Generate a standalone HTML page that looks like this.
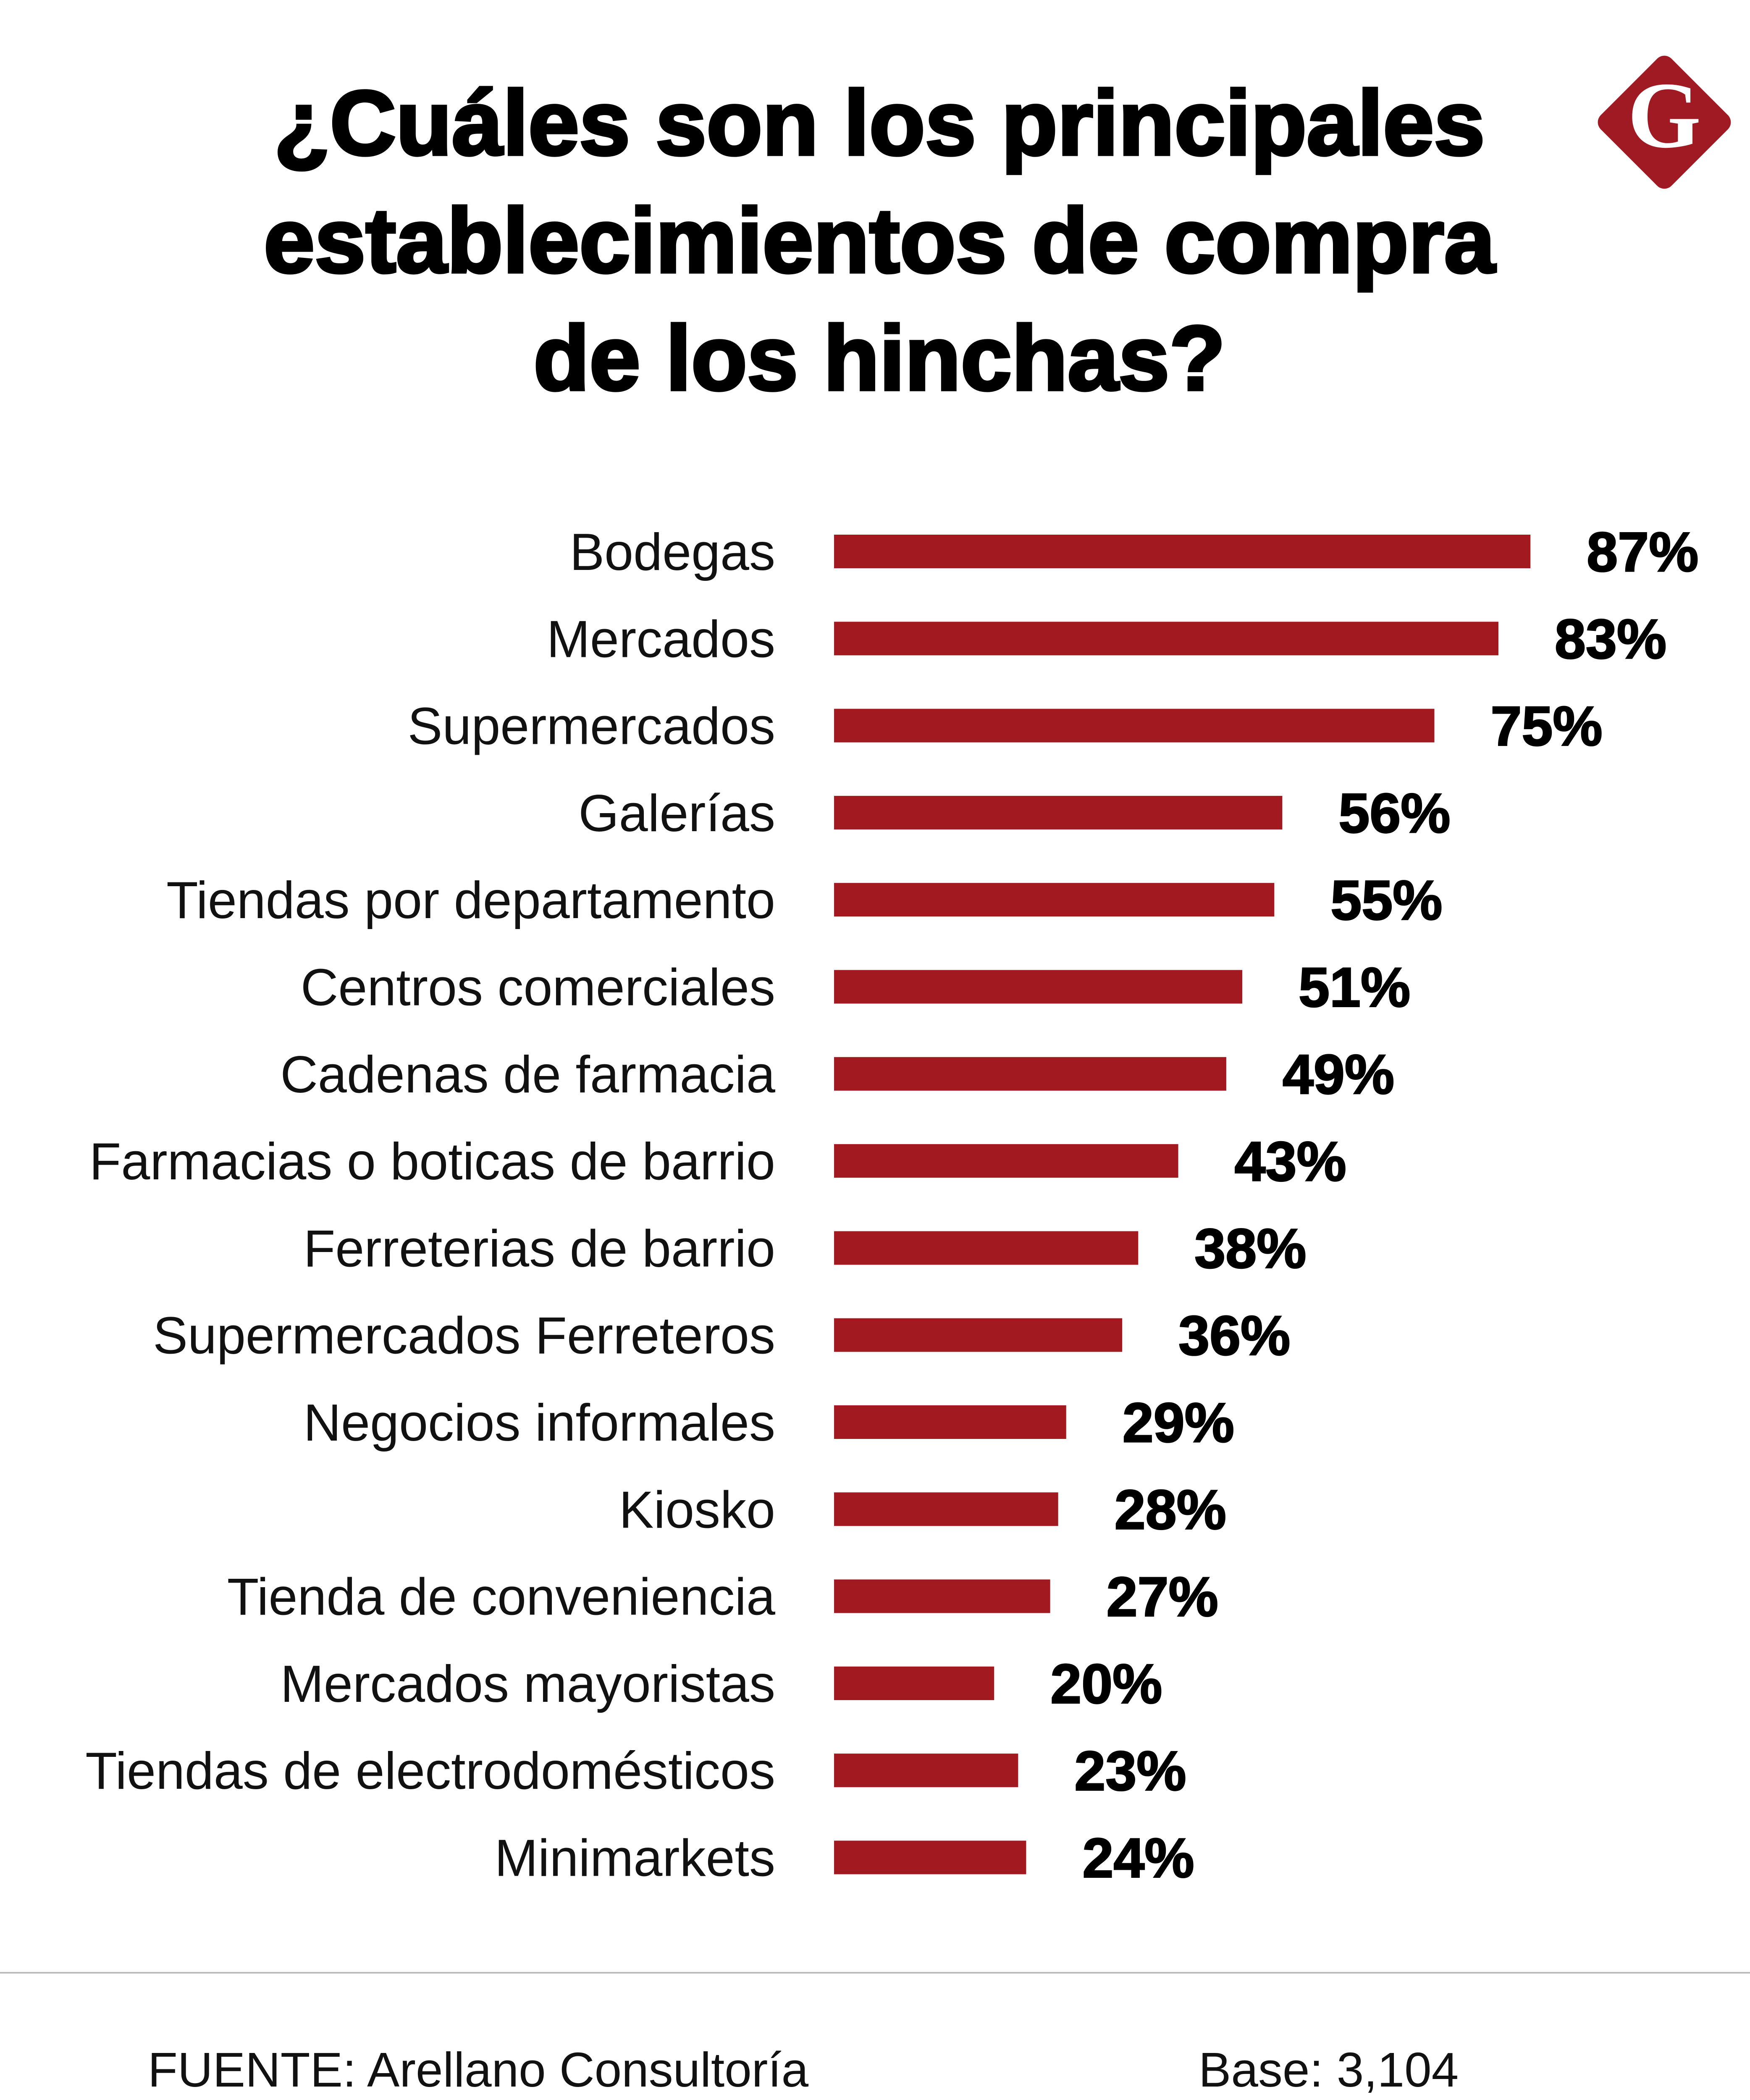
<!DOCTYPE html>
<html><head><meta charset="utf-8"><style>
html,body{margin:0;padding:0;background:#fff;overflow:hidden;}
svg{display:block;}
</style></head><body>
<svg width="4167" height="5237" viewBox="0 0 4167 5237" xmlns="http://www.w3.org/2000/svg">
<g font-family="Liberation Sans, sans-serif" font-weight="bold" font-size="218" text-anchor="middle" fill="#000" stroke="#000" stroke-width="7">
<text x="2094" y="368">¿Cuáles son los principales</text>
<text x="2094" y="648">establecimientos de compra</text>
<text x="2094" y="928">de los hinchas?</text>
</g>
<g>
<rect x="3844" y="172" width="238" height="238" rx="24" fill="#a01a24" transform="rotate(45 3963 291)"/>
<text x="3963" y="350" text-anchor="middle" font-family="Liberation Serif, serif" font-weight="bold" font-size="225" fill="#fff">G</text>
</g>
<g id="bars"></g>
<line x1="0" y1="4697" x2="4167" y2="4697" stroke="#bbb" stroke-width="4"/>
<text x="352" y="4968" font-family="Liberation Sans, sans-serif" font-size="116" fill="#111">FUENTE: Arellano Consultoría</text>
<text x="2854" y="4968" font-family="Liberation Sans, sans-serif" font-size="116" fill="#111">Base: 3,104</text>
</svg>
<script>
const categories=["Bodegas","Mercados","Supermercados","Galerías","Tiendas por departamento","Centros comerciales","Cadenas de farmacia","Farmacias o boticas de barrio","Ferreterias de barrio","Supermercados Ferreteros","Negocios informales","Kiosko","Tienda de conveniencia","Mercados mayoristas","Tiendas de electrodomésticos","Minimarkets"];
const values=[87,83,75,56,55,51,49,43,38,36,29,28,27,20,23,24];
const NS="http://www.w3.org/2000/svg";
const g=document.getElementById('bars');
const x0=1986, perPct=19.06, y0=1313, step=207.3, bh=80;
function xs(v){return x0+v*perPct;}
function yc(i){return y0+i*step;}
categories.forEach((c,i)=>{
  const y=yc(i);
  const t=document.createElementNS(NS,'text');
  
  
  t.setAttribute('x',1846);t.setAttribute('y',y+44);
  t.setAttribute('text-anchor','end');t.setAttribute('font-family','Liberation Sans, sans-serif');
  t.setAttribute('font-size','124');t.setAttribute('fill','#111');
  t.textContent=c;g.appendChild(t);
  const r=document.createElementNS(NS,'rect');
  
  
  r.setAttribute('x',x0);r.setAttribute('y',y-bh/2);
  r.setAttribute('width',xs(values[i])-x0);r.setAttribute('height',bh);
  r.setAttribute('fill','#a31920');g.appendChild(r);
  const v=document.createElementNS(NS,'text');
  
  
  v.setAttribute('x',xs(values[i])+134);v.setAttribute('y',y+47);
  v.setAttribute('font-family','Liberation Sans, sans-serif');v.setAttribute('font-weight','bold');
  v.setAttribute('font-size','133');v.setAttribute('fill','#000');
  v.setAttribute('stroke','#000');v.setAttribute('stroke-width','3');
  v.textContent=values[i]+'%';g.appendChild(v);
});
</script>
</body></html>
